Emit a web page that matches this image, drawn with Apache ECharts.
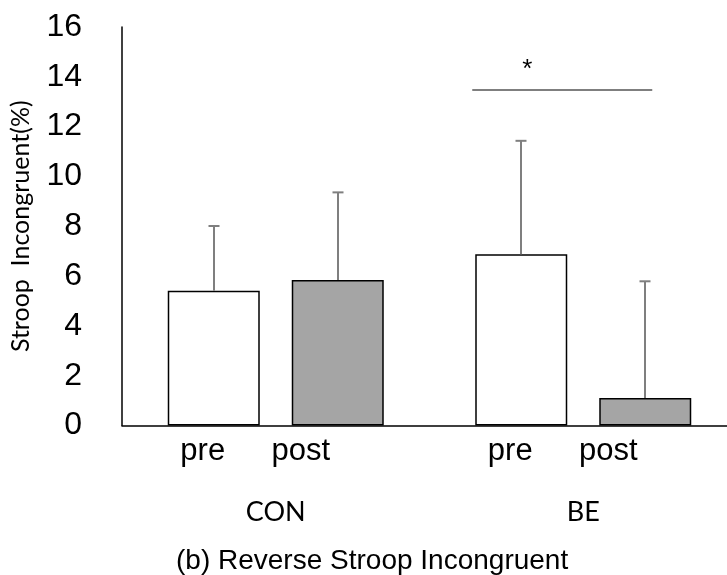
<!DOCTYPE html>
<html>
<head>
<meta charset="utf-8">
<script src="https://cdn.jsdelivr.net/npm/echarts@6/dist/echarts.min.js"></script>
<style>
  html, body { margin: 0; padding: 0; background: #fff; }
  #chart { width: 727px; height: 575px; }
</style>
</head>
<body>
<div id="chart"></div>
<script>
// Groups and measurement phases
const groups = ['CON', 'BE'];
const phases = ['pre', 'post'];

// Mean values and upper error-bar ends (mean + SD), in %
const preMean = [5.41, 6.88];
const preUpper = [8.01, 11.43];
const postMean = [5.84, 1.10];
const postUpper = [9.36, 5.79];

// Y axis range
const yMin = 0;
const yMax = 16;
const yStep = 2;

// Significance marker between BE pre and BE post
const sigGroup = 1;
const sigLevel = 13.47;
const sigText = '*';

const titleText = '(b) Reverse Stroop Incongruent';
const yName = 'Stroop  Incongruent(%)';

// Layout constants
const BAR_W = 92;
const BAR_GAP = 32;
const OFFSET = (BAR_W + BAR_GAP) / 2;
const CAP = 11;
const ERR_COLOR = '#7f7f7f';
const ARIAL = '"Liberation Sans", Arial, sans-serif';
const HUMANIST = 'Lato, "Open Sans", sans-serif';

function errorSeries(mean, upper, side) {
  return {
    type: 'custom',
    data: mean.map((m, i) => [i, m, upper[i]]),
    encode: { x: 0, y: [1, 2] },
    z: 5,
    silent: true,
    renderItem(params, api) {
      const c = api.value(0);
      const base = api.coord([c, api.value(1)]);
      const top = api.coord([c, api.value(2)]);
      const x = Math.round(base[0] + side * OFFSET);
      return {
        type: 'group',
        children: [
          { type: 'line', shape: { x1: x, y1: base[1], x2: x, y2: top[1] },
            style: { stroke: ERR_COLOR, lineWidth: 2 } },
          { type: 'line', shape: { x1: x - CAP / 2, y1: top[1], x2: x + CAP / 2, y2: top[1] },
            style: { stroke: ERR_COLOR, lineWidth: 2 } }
        ]
      };
    }
  };
}

const chart = echarts.init(document.getElementById('chart'), null, { renderer: 'canvas' });

chart.setOption({
  animation: false,
  backgroundColor: '#fff',
  // the category axis runs past the right edge of the canvas
  grid: {
    left: 122, width: 615, top: 27, height: 398.5,
    containLabel: false, outerBoundsMode: 'none'
  },
  title: {
    text: titleText,
    left: 176,
    top: 547,
    padding: 0,
    textStyle: { fontFamily: ARIAL, fontSize: 28, fontWeight: 'normal', color: '#000' }
  },
  xAxis: {
    type: 'category',
    data: groups,
    axisLine: { lineStyle: { color: '#000', width: 1.5 } },
    axisTick: { show: false },
    axisLabel: { margin: 73, fontFamily: HUMANIST, fontSize: 27, color: '#000' },
    splitLine: { show: false }
  },
  yAxis: {
    type: 'value',
    min: yMin,
    max: yMax,
    interval: yStep,
    name: yName,
    nameLocation: 'middle',
    nameRotate: 90,
    nameGap: 89,
    nameTextStyle: { fontFamily: HUMANIST, fontSize: 25, color: '#000' },
    axisLine: { show: true, lineStyle: { color: '#000', width: 1.5 } },
    axisTick: { show: false },
    axisLabel: { margin: 40, fontFamily: ARIAL, fontSize: 32, color: '#000' },
    splitLine: { show: false }
  },
  series: [
    {
      name: phases[0], type: 'bar', data: preMean,
      barWidth: BAR_W, barGap: (BAR_GAP / BAR_W * 100) + '%',
      itemStyle: { color: '#fff', borderColor: '#000', borderWidth: 1.5 }
    },
    {
      name: phases[1], type: 'bar', data: postMean,
      barWidth: BAR_W,
      itemStyle: { color: '#a5a5a5', borderColor: '#000', borderWidth: 1.5 }
    },
    errorSeries(preMean, preUpper, -1),
    errorSeries(postMean, postUpper, 1),
    {
      type: 'custom',
      silent: true,
      z: 6,
      data: [[sigGroup, sigLevel]],
      encode: { x: 0, y: 1 },
      renderItem(params, api) {
        const p = api.coord([api.value(0), api.value(1)]);
        return {
          type: 'group',
          children: [
            { type: 'line', shape: { x1: p[0] - 111, y1: p[1], x2: p[0] + 69, y2: p[1] },
              style: { stroke: ERR_COLOR, lineWidth: 2 } },
            { type: 'text', x: p[0] - 56, y: p[1] - 20,
              style: { text: sigText, fontFamily: ARIAL, fontSize: 26, fill: '#000',
                       align: 'center', verticalAlign: 'middle' } }
          ]
        };
      }
    },
    // Phase labels under each group
    {
      type: 'custom',
      silent: true,
      data: groups.map((g, i) => [i, 0]),
      encode: { x: 0, y: 1 },
      renderItem(params, api) {
        const p = api.coord([api.value(0), 0]);
        return {
          type: 'group',
          children: [
            { type: 'text', x: p[0] - 73, y: p[1] + 26,
              style: { text: phases[0], fontFamily: ARIAL, fontSize: 31, fill: '#000',
                       align: 'center', verticalAlign: 'middle' } },
            { type: 'text', x: p[0] + 25, y: p[1] + 26,
              style: { text: phases[1], fontFamily: ARIAL, fontSize: 31, fill: '#000',
                       align: 'center', verticalAlign: 'middle' } }
          ]
        };
      }
    }
  ]
});
</script>
</body>
</html>
